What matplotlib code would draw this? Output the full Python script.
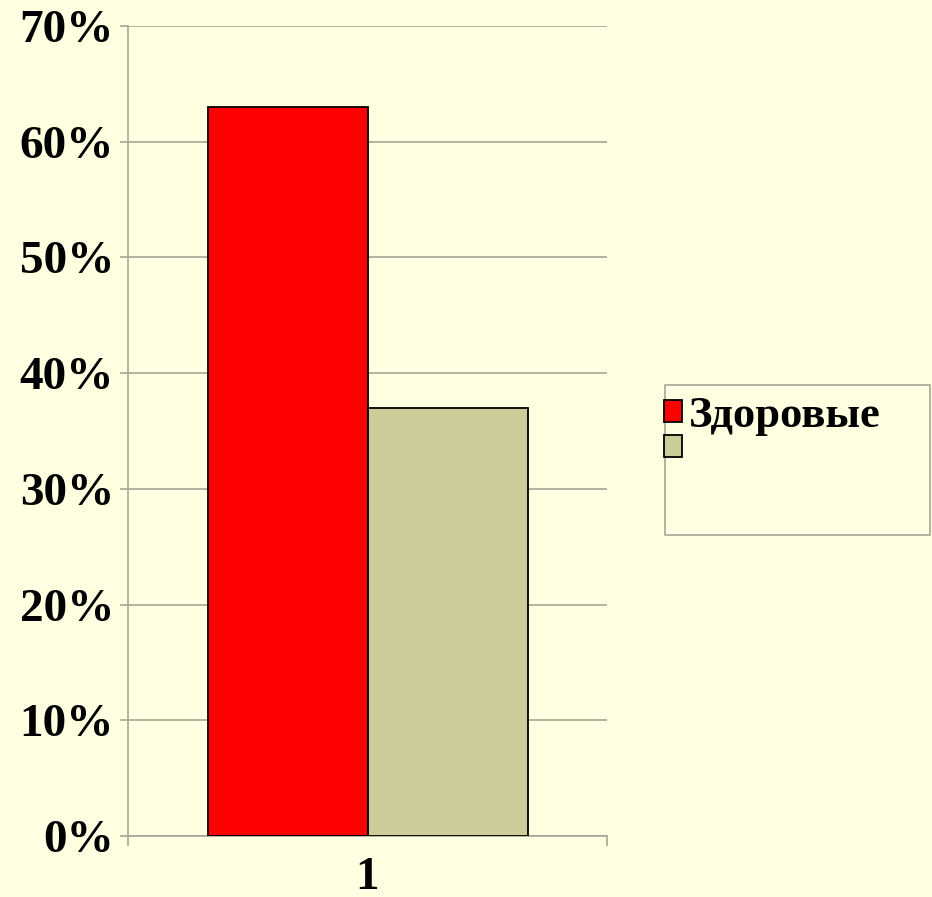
import matplotlib
matplotlib.use("Agg")
import matplotlib.pyplot as plt
from matplotlib.patches import Rectangle, Patch
from matplotlib.ticker import FuncFormatter

categories = ["1"]
series_names = ["Здоровые", ""]
series_values = [63, 37]
series_colors = ["#FF0000", "#CCCC99"]
y_ticks = [0, 10, 20, 30, 40, 50, 60, 70]

bg = "#FFFFE1"
grid_c = "#A6A696"
plt.rcParams['font.family'] = ['Liberation Serif', 'DejaVu Serif']
plt.rcParams['font.weight'] = 'bold'

fig = plt.figure(figsize=(9.32, 8.97), dpi=100, facecolor=bg)
ax = fig.add_axes([128/932, 1-836/897, (607-128)/932, (836-26)/897])
ax.set_facecolor(bg)

bw = 160/479
offsets = [-bw/2, bw/2]
for i, (name, val, col) in enumerate(zip(series_names, series_values, series_colors)):
    ax.bar(0 + offsets[i], val, width=bw, color=col, edgecolor="black", linewidth=1.3, zorder=3)

ax.set_xlim(-0.5, 0.5)
ax.set_ylim(0, 70)
ax.set_yticks(y_ticks)
ax.yaxis.set_major_formatter(FuncFormatter(lambda v, p: f"{int(v)}%"))
ax.grid(axis='y', color=grid_c, linewidth=1.2, zorder=0)
ax.set_axisbelow(True)

for s in ['top', 'right']:
    ax.spines[s].set_visible(False)
for s in ['left', 'bottom']:
    ax.spines[s].set_color(grid_c)
    ax.spines[s].set_linewidth(1.2)

ax.tick_params(axis='y', length=6, width=1.2, color=grid_c, pad=4, labelsize=34)
ax.set_xticks([0])
ax.set_xticklabels(categories)
ax.set_xticks([-0.5, 0.5], minor=True)
ax.tick_params(axis='x', which='major', length=0, pad=15, labelsize=34)
ax.tick_params(axis='x', which='minor', length=7, width=1.2, color=grid_c)
for lbl in ax.get_yticklabels() + ax.get_xticklabels():
    lbl.set_fontweight('bold')

# legend frame
fig.patches.append(Rectangle((665/932, 1-535/897), (930-665)/932, (535-385)/897,
                             transform=fig.transFigure, facecolor=bg, edgecolor=grid_c,
                             linewidth=1.2, zorder=0))
handles = [Patch(facecolor=c, edgecolor='black', linewidth=1.3) for c in series_colors]
leg = fig.legend(handles, series_names, loc='upper left',
                 bbox_to_anchor=(664/932, 1-396/897), frameon=False,
                 prop={'size': 32, 'weight': 'bold', 'family': ['Liberation Serif']},
                 handlelength=0.40, handleheight=0.40, handletextpad=0.17,
                 labelspacing=-0.12, borderpad=0, borderaxespad=0)

fig.savefig("out.png", dpi=100, facecolor=bg)
